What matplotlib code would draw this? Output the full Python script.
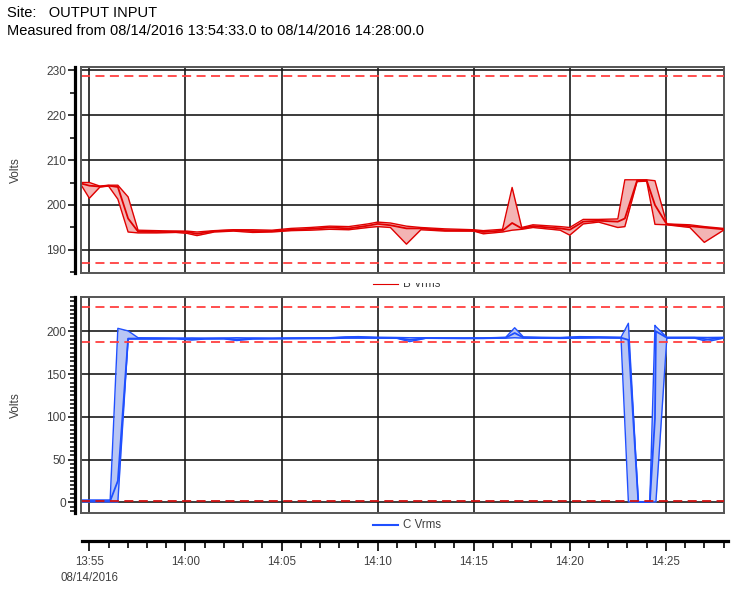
import matplotlib
matplotlib.use("Agg")
import matplotlib.pyplot as plt
import matplotlib.dates as mdates
from matplotlib.transforms import Bbox
import numpy as np
import pandas as pd

plt.rcParams['font.family'] = ['Liberation Sans', 'DejaVu Sans']

# ---------------- data ----------------
DAY = "2016-08-14 "
x_start, x_end = "13:54:33", "14:28:00"

upper_limit = 228.6
lower_limit = 187.0
zero_limit = 1.0

# B Vrms (top panel)
b_time = ["13:54:33", "13:55:00", "13:55:33", "13:56:00", "13:56:29", "13:57:01",
          "13:57:32", "13:58:30", "13:59:30", "14:00:05", "14:00:36", "14:01:30",
          "14:02:30", "14:03:30", "14:04:30", "14:05:30", "14:06:30", "14:07:30",
          "14:08:30", "14:09:30", "14:10:00", "14:10:40", "14:11:30", "14:12:15",
          "14:13:30", "14:15:00", "14:15:30", "14:16:30", "14:17:00", "14:17:30",
          "14:18:05", "14:19:30", "14:20:00", "14:20:42", "14:21:30", "14:22:30",
          "14:22:52", "14:23:30", "14:24:00", "14:24:26", "14:25:03", "14:26:15",
          "14:27:00", "14:28:00"]
b_max = [205.0, 205.0, 204.2, 204.4, 204.4, 201.8,
         194.4, 194.3, 194.2, 194.2, 194.0, 194.3,
         194.5, 194.5, 194.4, 194.8, 195.0, 195.3,
         195.2, 195.8, 196.2, 196.0, 195.3, 195.0,
         194.7, 194.5, 194.3, 194.6, 203.9, 195.0,
         195.6, 195.2, 195.0, 196.8, 196.8, 196.9,
         205.6, 205.6, 205.6, 205.4, 195.8, 195.6,
         195.2, 194.8]
b_min = [204.6, 201.5, 204.0, 204.2, 201.3, 194.0,
         193.8, 193.8, 193.9, 193.7, 193.2, 194.0,
         194.2, 193.9, 194.0, 194.3, 194.4, 194.6,
         194.5, 195.0, 195.2, 195.0, 191.3, 194.5,
         194.2, 194.2, 193.6, 194.0, 194.4, 194.6,
         195.0, 194.4, 193.3, 195.8, 196.2, 195.0,
         195.2, 205.2, 205.3, 195.7, 195.6, 195.0,
         191.7, 194.4]
b_avg = [204.8, 204.3, 204.1, 204.3, 204.0, 197.0,
         194.1, 194.0, 194.1, 194.0, 193.6, 194.2,
         194.4, 194.2, 194.2, 194.5, 194.7, 195.0,
         194.8, 195.4, 195.8, 195.5, 194.8, 194.8,
         194.4, 194.3, 194.0, 194.3, 196.0, 194.8,
         195.3, 194.8, 194.5, 196.3, 196.5, 196.3,
         197.0, 205.4, 205.5, 200.0, 195.7, 195.3,
         195.0, 194.6]

# C Vrms (bottom panel)
c_time = ["13:54:33", "13:55:30", "13:56:05", "13:56:29", "13:57:01", "13:57:32",
          "13:58:30", "13:59:30", "14:00:20", "14:01:00", "14:02:00", "14:02:40",
          "14:03:30", "14:04:30", "14:05:30", "14:06:30", "14:07:30", "14:08:20",
          "14:09:00", "14:10:00", "14:11:00", "14:11:40", "14:12:30", "14:13:30",
          "14:14:30", "14:15:30", "14:16:40", "14:17:08", "14:17:35", "14:18:30",
          "14:19:30", "14:20:30", "14:21:30", "14:22:40", "14:23:03", "14:23:34",
          "14:24:10", "14:24:26", "14:24:29", "14:25:03", "14:26:30", "14:27:10",
          "14:28:00"]
c_max = [2.7, 2.7, 2.7, 203.5, 200.5, 192.5,
         192.3, 192.0, 192.3, 192.0, 192.2, 192.5,
         192.2, 192.0, 192.3, 192.4, 192.5, 193.5,
         193.8, 193.0, 192.8, 192.5, 192.5, 192.3,
         192.2, 192.3, 193.0, 204.2, 193.5, 193.0,
         192.8, 193.8, 193.5, 193.0, 209.4, 0.5,
         0.5, 207.0, 205.5, 193.0, 193.0, 192.8,
         193.0]
c_min = [0.5, 0.5, 0.5, 0.5, 191.0, 191.0,
         191.0, 191.2, 189.8, 191.0, 191.2, 189.2,
         191.0, 191.3, 191.4, 191.5, 191.5, 192.0,
         192.0, 192.0, 191.8, 188.0, 191.8, 191.7,
         191.6, 191.6, 192.0, 192.5, 192.0, 191.9,
         191.7, 192.0, 192.3, 192.0, 0.5, 0.5,
         0.5, 0.5, 0.5, 192.0, 192.0, 188.0,
         192.0]
c_avg = [1.5, 1.5, 1.5, 25.0, 191.5, 191.5,
         191.6, 191.6, 191.0, 191.5, 191.6, 190.5,
         191.6, 191.6, 191.8, 191.9, 192.0, 192.8,
         192.9, 192.5, 192.3, 190.0, 192.1, 192.0,
         191.9, 192.0, 192.5, 198.0, 192.7, 192.4,
         192.2, 192.8, 192.9, 192.5, 190.0, 0.5,
         0.5, 98.0, 200.0, 192.5, 192.5, 190.5,
         192.5]

top_yticks = [190, 200, 210, 220, 230]
bot_yticks = [0, 50, 100, 150, 200]
time_ticks = ["13:55:00", "14:00:00", "14:05:00", "14:10:00", "14:15:00", "14:20:00", "14:25:00"]
time_tick_labels = ["13:55\n08/14/2016", "14:00", "14:05", "14:10", "14:15", "14:20", "14:25"]

header_1 = "Site:   OUTPUT INPUT"
header_2 = "Measured from 08/14/2016 13:54:33.0 to 08/14/2016 14:28:00.0"
legend_b = "B Vrms"
legend_c = "C Vrms"
ylabel = "Volts"


def T(s):
    return pd.to_datetime(DAY + pd.Series(s)).dt.to_pydatetime()


# ---------------- layout ----------------
W, H = 746, 590
fig = plt.figure(figsize=(W / 100, H / 100), dpi=100)


def frac(l, t, r, b):
    return [l / W, 1 - b / H, (r - l) / W, (b - t) / H]


GRID = '#1a1a1a'
FRAME = '#555555'
TXT = '#404040'
LIM = '#ff4040'
t0, t1 = T([x_start, x_end])


def style_panel(ax, yticks, ylim, minor_step):
    ax.set_xlim(t0, t1)
    ax.set_ylim(*ylim)
    ax.set_yticks(yticks)
    ax.set_yticklabels([str(v) for v in yticks])
    minors = np.arange(ylim[0] - ylim[0] % minor_step, ylim[1] + 0.01, minor_step)
    minors = [m for m in minors if ylim[0] <= m <= ylim[1]]
    ax.set_yticks(minors, minor=True)
    ax.set_xticks(T(time_ticks))
    ax.tick_params(axis='x', bottom=False, labelbottom=False)
    ax.tick_params(axis='y', which='major', length=5, width=1.1, color='black',
                   labelsize=8.6, labelcolor=TXT, pad=1.5)
    ax.tick_params(axis='y', which='minor', length=3.5, width=1.1, color='black')
    ax.grid(True, which='major', color=GRID, lw=1.2)
    for s in ['top', 'right', 'bottom']:
        ax.spines[s].set_color(FRAME)
        ax.spines[s].set_linewidth(1.4)
    ax.spines['left'].set_position(('outward', 4.1))
    ax.spines['left'].set_linewidth(2.3)
    ax.spines['left'].set_color('black')
    ax.plot([0, 0], [0, 1], transform=ax.transAxes, color=FRAME, lw=1.4,
            clip_on=False, zorder=5)
    ax.set_ylabel(ylabel, fontsize=8.6, color=TXT)
    ax.yaxis.set_label_coords(-0.091, 0.5)
    ax.set_axisbelow(True)


# top panel
ax1 = fig.add_axes(frac(80.7, 67, 723.5, 273.3))
style_panel(ax1, top_yticks, (184.82, 230.67), 5)
tb = T(b_time)
ax1.fill_between(tb, b_min, b_max, color='#f3b4b4', lw=0, zorder=2)
ax1.plot(tb, b_max, color='#e00000', lw=1.0, zorder=3)
ax1.plot(tb, b_min, color='#e00000', lw=1.0, zorder=3)
ax1.plot(tb, b_avg, color='#e00000', lw=1.3, zorder=3)
ax1.axhline(upper_limit, color=LIM, lw=1.3, dashes=(5, 3), zorder=4)
ax1.axhline(lower_limit, color=LIM, lw=1.3, dashes=(5, 3), zorder=4)

# bottom panel
ax2 = fig.add_axes(frac(80.7, 296.7, 723.5, 513.3))
style_panel(ax2, bot_yticks, (-12.9, 240.5), 5)
tc = T(c_time)
ax2.fill_between(tc, c_min, c_max, color='#b8c6f4', lw=0, zorder=2)
ax2.plot(tc, c_max, color='#1f4fff', lw=1.0, zorder=3)
ax2.plot(tc, c_min, color='#1f4fff', lw=1.0, zorder=3)
ax2.plot(tc, c_avg, color='#1f4fff', lw=1.3, zorder=3)
ax2.axhline(upper_limit, color=LIM, lw=1.3, dashes=(5, 3), zorder=4)
ax2.axhline(lower_limit, color=LIM, lw=1.3, dashes=(5, 3), zorder=4)
ax2.axhline(zero_limit, color='#d01010', lw=1.3, dashes=(5, 3), zorder=4)

# time axis
ax3 = fig.add_axes(frac(82, 541, 728, 541.01))
ax3.set_xlim(T(["13:54:37"])[0], T(["14:28:14"])[0])
ax3.set_yticks([])
for s in ['top', 'right', 'left']:
    ax3.spines[s].set_visible(False)
ax3.spines['bottom'].set_linewidth(2.3)
ax3.spines['bottom'].set_color('black')
ax3.patch.set_visible(False)
ax3.set_xticks(T(time_ticks))
ax3.set_xticklabels(time_tick_labels, linespacing=1.45)
ax3.xaxis.set_minor_locator(mdates.MinuteLocator())
ax3.tick_params(axis='x', which='major', length=7.5, width=1.2, color='black',
                labelsize=8.3, labelcolor=TXT, pad=3.5)
ax3.tick_params(axis='x', which='minor', length=5, width=1.2, color='black')

# legends
fig.add_artist(plt.Line2D([373 / W, 398 / W], [1 - 284 / H] * 2, color='#e00000', lw=0.8))
tx = fig.text(403 / W, 1 - 284 / H, legend_b, fontsize=8.3, color=TXT, va='center')
tx.set_clip_box(Bbox([[0, 0], [W, H - 283.0]]))
tx.set_clip_on(True)
fig.add_artist(plt.Line2D([373 / W, 398 / W], [1 - 525 / H] * 2, color='#1f4fff', lw=1.5))
fig.text(403 / W, 1 - 525 / H, legend_c, fontsize=8.3, color=TXT, va='center')

# header
fig.text(7 / W, 1 - 13 / H, header_1, fontsize=10.5, color='black', va='center')
fig.text(7 / W, 1 - 31 / H, header_2, fontsize=10.5, color='black', va='center')

fig.savefig("out.png", dpi=100)
